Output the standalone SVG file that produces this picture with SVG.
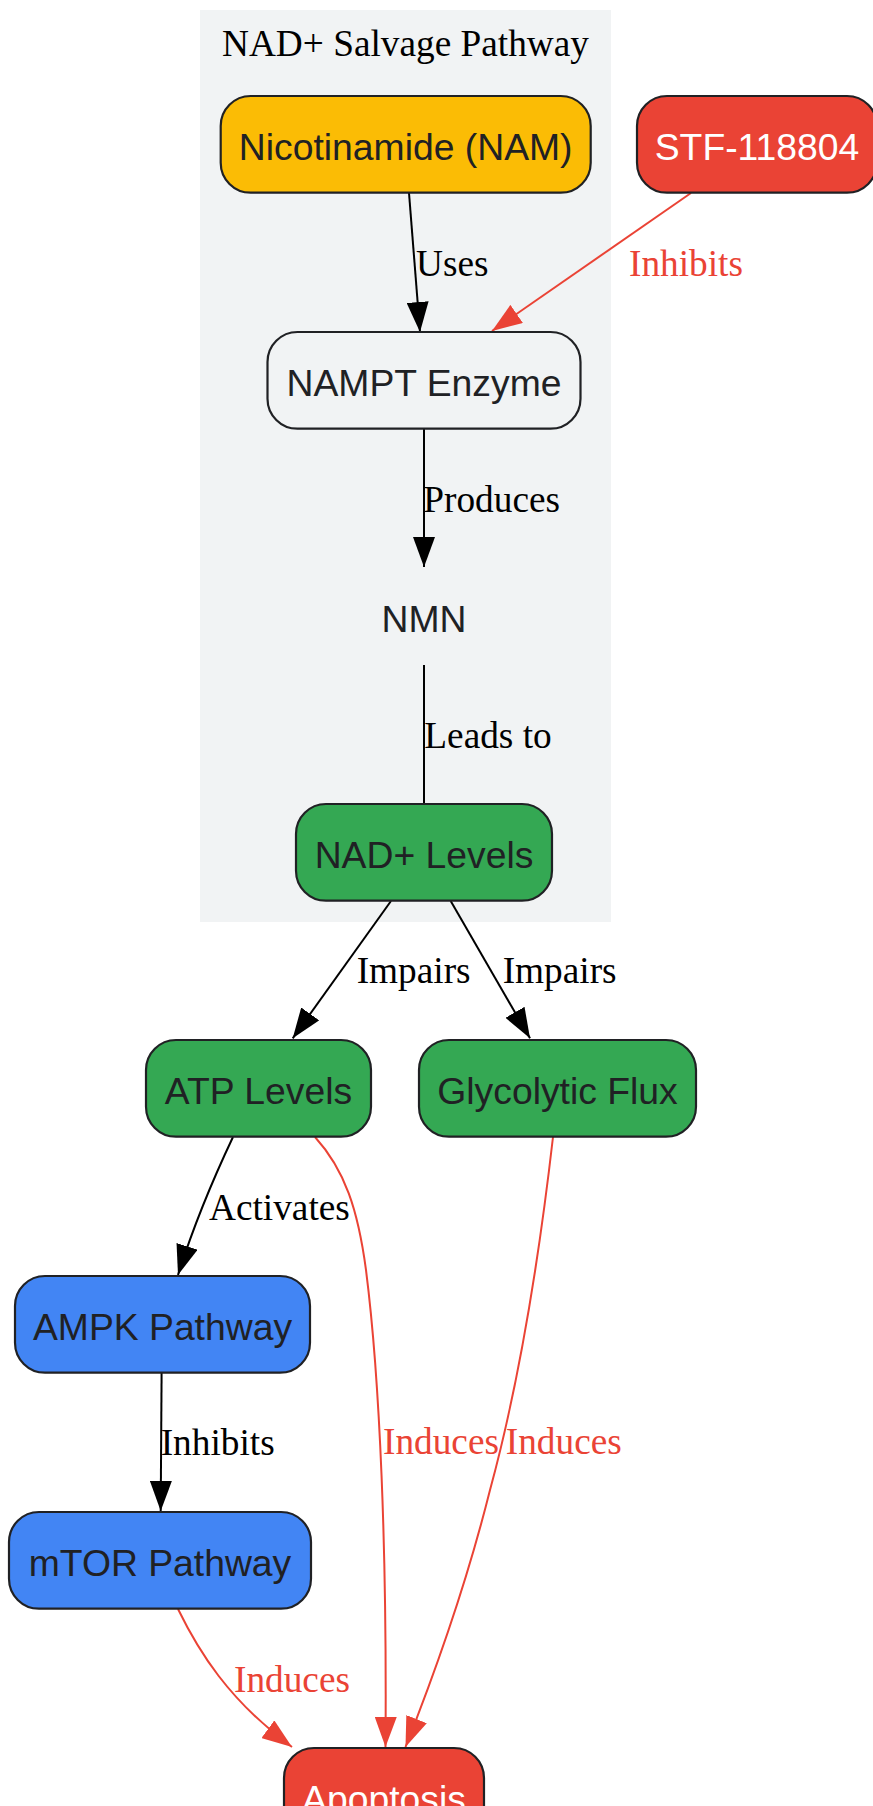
<svg xmlns="http://www.w3.org/2000/svg" width="873" height="1806" viewBox="0 0 873 1806">
<style>
.node rect{stroke:#202124;stroke-width:2.2}
.nt{font-family:"Liberation Sans",Arial,sans-serif;font-size:37.3px;text-anchor:middle;fill:#202124}
.wt{fill:#ffffff}
.el{font-family:"Liberation Serif","Times New Roman",serif;font-size:37.3px;fill:#000000}
.red{fill:#ea4335}
.e{fill:none;stroke:#000000;stroke-width:2}
.er{fill:none;stroke:#ea4335;stroke-width:2}
</style>
<defs>
<marker id="ab" markerUnits="userSpaceOnUse" viewBox="0 0 30 22" markerWidth="30" markerHeight="22" refX="30" refY="11" orient="auto"><path d="M0,0 L30,11 L0,22 z" fill="#000000"/></marker>
<marker id="ar" markerUnits="userSpaceOnUse" viewBox="0 0 30 22" markerWidth="30" markerHeight="22" refX="30" refY="11" orient="auto"><path d="M0,0 L30,11 L0,22 z" fill="#ea4335"/></marker>
</defs>
<rect width="873" height="1806" fill="#ffffff"/>
<g id="cluster_salvage">
<rect x="200" y="10" width="411" height="912" fill="#f1f3f4"/>
<text x="405.5" y="56" font-family="'Liberation Serif','Times New Roman',serif" font-size="37.3" text-anchor="middle" fill="#000000">NAD+ Salvage Pathway</text>
</g>
<g id="edges">
<path class="e" d="M409,193 L420,332" marker-end="url(#ab)"/>
<path class="er" d="M691,193 L492,331" marker-end="url(#ar)"/>
<path class="e" d="M424,429 L424,567" marker-end="url(#ab)"/>
<path class="e" d="M424,665 L424,804"/>
<path class="e" d="M391,901 L292.7,1038.3" marker-end="url(#ab)"/>
<path class="e" d="M450.7,901 L530,1038.3" marker-end="url(#ab)"/>
<path class="e" d="M233,1137 C215,1175 196,1218 178,1275" marker-end="url(#ab)"/>
<path class="er" d="M315,1137 C345,1170 358,1210 366,1270 C380,1380 387,1550 385.5,1747" marker-end="url(#ar)"/>
<path class="er" d="M553,1137 C540,1250 520,1380 490,1490 C470,1570 440,1660 405.5,1747" marker-end="url(#ar)"/>
<path class="e" d="M161.6,1373 L160.7,1511" marker-end="url(#ab)"/>
<path class="er" d="M178,1609 C198,1650 228,1700 292,1747" marker-end="url(#ar)"/>
<text class="el" x="416" y="276">Uses</text>
<text class="el red" x="629" y="275.5">Inhibits</text>
<text class="el" x="423.3" y="512.3">Produces</text>
<text class="el" x="424.3" y="747.7">Leads to</text>
<text class="el" x="356.7" y="983.3">Impairs</text>
<text class="el" x="502.7" y="983.3">Impairs</text>
<text class="el" x="209" y="1220">Activates</text>
<text class="el red" x="383" y="1454">Induces</text>
<text class="el red" x="505.8" y="1454">Induces</text>
<text class="el" x="160.7" y="1455">Inhibits</text>
<text class="el red" x="234" y="1691.5">Induces</text>
</g>
<g id="nam" class="node"><rect x="220.7" y="96" width="370" height="96.7" rx="30" fill="#fbbc05"/><text class="nt" x="405.7" y="160">Nicotinamide (NAM)</text></g>
<g id="stf" class="node"><rect x="637" y="96" width="240" height="96.7" rx="30" fill="#ea4335"/><text class="nt wt" x="757" y="160">STF-118804</text></g>
<g id="nampt" class="node"><rect x="267.5" y="332" width="313" height="96.7" rx="30" fill="#f1f3f4"/><text class="nt" x="424" y="396">NAMPT Enzyme</text></g>
<g id="nmn" class="node"><text class="nt" x="424" y="631.7">NMN</text></g>
<g id="nad" class="node"><rect x="296" y="804" width="256" height="96.7" rx="30" fill="#34a853"/><text class="nt" x="424" y="868">NAD+ Levels</text></g>
<g id="atp" class="node"><rect x="146" y="1040" width="225" height="96.7" rx="30" fill="#34a853"/><text class="nt" x="258.5" y="1104">ATP Levels</text></g>
<g id="glyco" class="node"><rect x="419" y="1040" width="277" height="96.7" rx="30" fill="#34a853"/><text class="nt" x="557.5" y="1104">Glycolytic Flux</text></g>
<g id="ampk" class="node"><rect x="15" y="1276" width="295" height="96.7" rx="30" fill="#4285f4"/><text class="nt" x="162.5" y="1340">AMPK Pathway</text></g>
<g id="mtor" class="node"><rect x="9" y="1512" width="302" height="96.7" rx="30" fill="#4285f4"/><text class="nt" x="160" y="1576">mTOR Pathway</text></g>
<g id="apoptosis" class="node"><rect x="284" y="1748" width="200" height="96.7" rx="30" fill="#ea4335"/><text class="nt wt" x="384" y="1812">Apoptosis</text></g>
</svg>
